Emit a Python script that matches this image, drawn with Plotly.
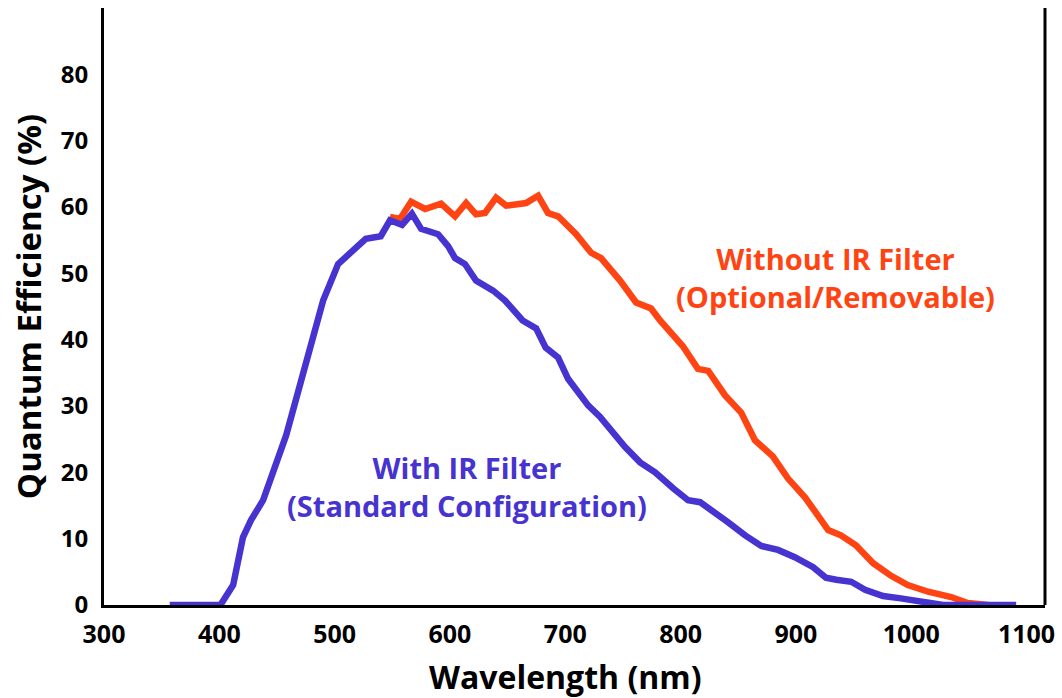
import plotly.graph_objects as go

# With IR Filter (Standard Configuration)
with_ir_nm = [357, 401, 412, 420.5, 427.5, 438, 458, 472.6, 490, 503, 527, 540, 548, 558.5,
              567, 575, 589.7, 598.4, 604.4, 613, 622.6, 637.4, 647.8, 663, 674.7, 683,
              693.8, 702.4, 711, 719.8, 730, 741.5, 751.9, 764.9, 777.9, 793.5, 806.5,
              816.9, 829.9, 841, 856, 870, 884.5, 899, 915, 926, 935, 948, 960, 975.6,
              991, 1008.6, 1027.7, 1091]
with_ir_qe = [0, 0, 3, 10.2, 12.8, 15.8, 25.6, 35.3, 45.9, 51.4, 55.2, 55.6, 58, 57.3,
              59, 56.7, 55.9, 54.1, 52.3, 51.4, 48.9, 47.4, 45.9, 42.9, 41.7, 38.8,
              37.3, 34.1, 32.3, 30.1, 28.4, 26, 23.8, 21.5, 20, 17.6, 15.8,
              15.5, 14, 12.5, 10.5, 8.9, 8.3, 7.2, 5.7, 4.1, 3.8, 3.5, 2.3, 1.35,
              1, 0.45, 0, 0]

# Without IR Filter (Optional/Removable)
no_ir_nm = [548, 556.7, 566.3, 578.4, 592.3, 604.4, 614, 622.6, 630.4, 640, 648.7, 657.3,
            666, 676.4, 685, 693.8, 705, 709.4, 722.4, 731, 747.5, 761.4, 774.4, 782.2,
            802, 815, 824, 838.6, 852.5, 864.6, 880, 893, 908, 919, 928, 939, 952, 967,
            982.6, 997, 1014.7, 1034.6, 1049, 1066.7]
no_ir_qe = [58.5, 58.2, 60.8, 59.7, 60.5, 58.6, 60.6, 58.9, 59.1, 61.4, 60.2, 60.5,
            60.6, 61.7, 59.1, 58.6, 56.8, 55.9, 53.1, 52.3, 48.9, 45.6, 44.7, 42.9,
            39, 35.6, 35.3, 31.6, 29, 24.8, 22.4, 19.1, 16.2, 13.5, 11.3, 10.5, 9, 6.3,
            4.4, 3, 2, 1.2, 0.3, 0]

x_ticks = [300, 400, 500, 600, 700, 800, 900, 1000, 1100]
y_ticks = [0, 10, 20, 30, 40, 50, 60, 70, 80]

BLUE = "#4733CF"
ORANGE = "#FF4413"
FONT = "Open Sans"

fig = go.Figure()
fig.add_trace(go.Scatter(x=no_ir_nm, y=no_ir_qe, mode="lines",
                         line=dict(color=ORANGE, width=6.5), hoverinfo="skip"))
fig.add_trace(go.Scatter(x=with_ir_nm, y=with_ir_qe, mode="lines",
                         line=dict(color=BLUE, width=6.5), hoverinfo="skip"))

fig.add_annotation(x=934, y=49.3, xref="x", yref="y", showarrow=False,
                   text="<b>Without IR Filter<br>(Optional/Removable)</b>",
                   font=dict(family=FONT, size=29, color=ORANGE), align="center")
fig.add_annotation(x=615, y=17.9, xref="x", yref="y", showarrow=False,
                   text="<b>With IR Filter<br>(Standard Configuration)</b>",
                   font=dict(family=FONT, size=29, color=BLUE), align="center")

# right-hand frame line
fig.add_shape(type="line", xref="paper", yref="paper", x0=1, x1=1, y0=0, y1=1,
              line=dict(color="black", width=3))

# x-axis title (placed slightly left of plot centre, as in the reference)
fig.add_annotation(x=0.49, y=0, xref="paper", yref="paper", yanchor="middle", yshift=-71,
                   showarrow=False, text="<b>Wavelength (nm)</b>",
                   font=dict(size=32, family=FONT, color="black"))

fig.update_layout(
    width=1062, height=698,
    margin=dict(l=104, r=17, t=8, b=93),
    paper_bgcolor="white", plot_bgcolor="white",
    showlegend=False,
    font=dict(family=FONT, color="black"),
    xaxis=dict(range=[300, 1116], tickvals=x_ticks, ticktext=[f"<b>{v}</b>" for v in x_ticks],
               showgrid=False, zeroline=False, showline=True, linecolor="black", linewidth=3,
               ticks="", ticklabelstandoff=5, tickfont=dict(size=25, family=FONT),
               automargin=False),
    yaxis=dict(range=[0, 90], tickvals=y_ticks, ticktext=[f"<b>{v}</b>" for v in y_ticks],
               showgrid=False, zeroline=False, showline=True, linecolor="black", linewidth=3,
               ticks="", ticklabelstandoff=8, tickfont=dict(size=24, family=FONT),
               automargin=False,
               title=dict(text="<b>Quantum Efficiency (%)</b>", font=dict(size=33, family=FONT),
                          standoff=10)),
)

fig.write_html("out.html", config={"displayModeBar": False},
               post_script="document.body.style.margin='0';")
